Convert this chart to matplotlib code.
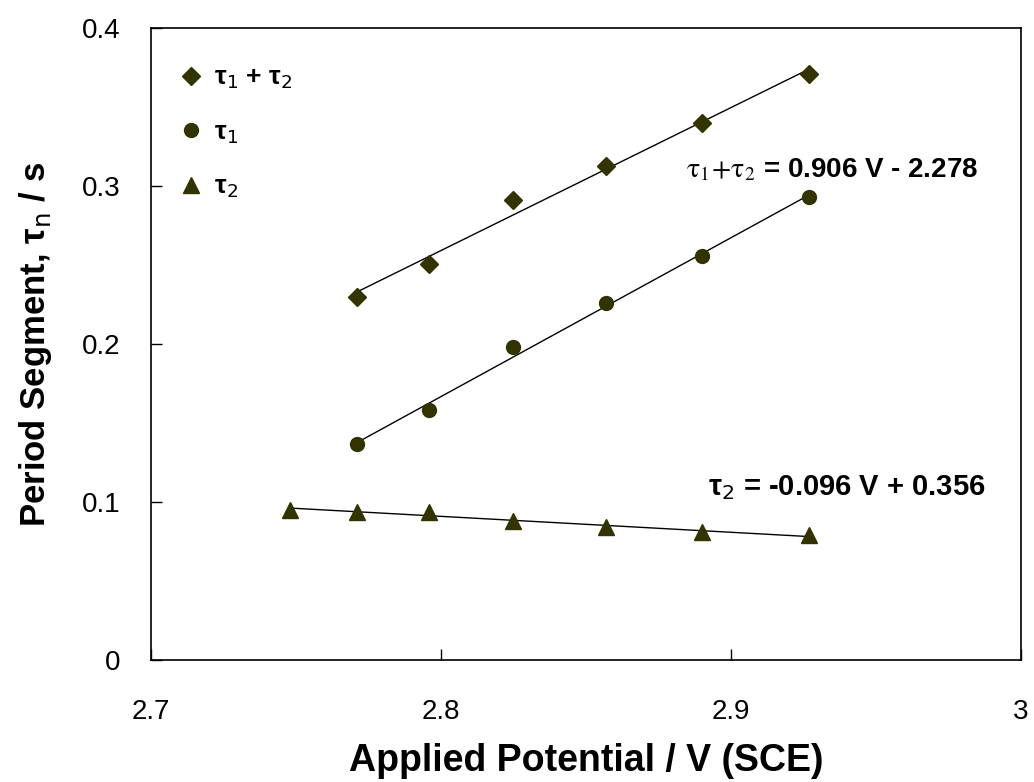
import numpy as np
import matplotlib
matplotlib.use("Agg")
import matplotlib.pyplot as plt

# applied potential (V vs SCE)
potential = [2.771, 2.796, 2.825, 2.857, 2.890, 2.927]
potential_t2 = [2.748, 2.771, 2.796, 2.825, 2.857, 2.890, 2.927]

tau_sum = [0.230, 0.251, 0.291, 0.313, 0.340, 0.371]
tau_1 = [0.137, 0.158, 0.198, 0.226, 0.256, 0.293]
tau_2 = [0.095, 0.094, 0.094, 0.088, 0.084, 0.081, 0.079]

fit_sum_label = r"$\mathrm{\tau}_1\!+\!\mathrm{\tau}_2$ = 0.906 V - 2.278"
fit_t2_label = "τ$_2$ = -0.096 V + 0.356"

plt.rcParams["font.family"] = ["Liberation Sans", "DejaVu Sans"]
mcol = "#333300"

fig = plt.figure(figsize=(10.34, 7.82), dpi=100)
ax = fig.add_axes([0.146, 0.156, 0.8414, 0.808])


def fit_line(x, y):
    k, b = np.polyfit(x, y, 1)
    xs = np.array([min(x), max(x)])
    ax.plot(xs, k * xs + b, color="black", lw=1.0, zorder=1)


fit_line(potential, tau_sum)
fit_line(potential, tau_1)
fit_line(potential_t2, tau_2)

ax.plot(potential, tau_sum, "D", color=mcol, ms=9, ls="none",
        label="τ$_1$ + τ$_2$", zorder=3)
ax.plot(potential, tau_1, "o", color=mcol, ms=10, ls="none",
        label="τ$_1$", zorder=3)
ax.plot(potential_t2, tau_2, "^", color=mcol, ms=11, ls="none",
        label="τ$_2$", zorder=3)

ax.set_xlim(2.7, 3.0)
ax.set_ylim(0, 0.4)
ax.set_xticks([2.7, 2.8, 2.9, 3.0])
ax.set_xticklabels(["2.7", "2.8", "2.9", "3"])
ax.set_yticks([0, 0.1, 0.2, 0.3, 0.4])
ax.set_yticklabels(["0", "0.1", "0.2", "0.3", "0.4"])
ax.tick_params(direction="in", length=8, width=1, labelsize=20,
               top=False, right=False)
ax.tick_params(axis="y", pad=22)
ax.tick_params(axis="x", pad=28)
for s in ax.spines.values():
    s.set_linewidth(1.2)

ax.set_xlabel("Applied Potential / V (SCE)", fontsize=27, fontweight="bold",
              labelpad=13)
ax.set_ylabel(r"Period Segment, τ$_\mathrm{n}$ / s", fontsize=25,
              fontweight="bold", labelpad=20)

leg = ax.legend(loc="upper left", frameon=False, fontsize=19,
                handletextpad=0.3, labelspacing=1.1, borderaxespad=0.5,
                handlelength=1.2, bbox_to_anchor=(0.0, 0.978))
for t in leg.get_texts():
    t.set_fontweight("bold")

ax.text(2.8845, 0.31, fit_sum_label, fontsize=20, fontweight="bold",
        math_fontfamily="stix", ha="left", va="center")
ax.text(2.940, 0.109, fit_t2_label, fontsize=21, fontweight="bold",
        ha="center", va="center")

fig.savefig("out.png", dpi=100)
